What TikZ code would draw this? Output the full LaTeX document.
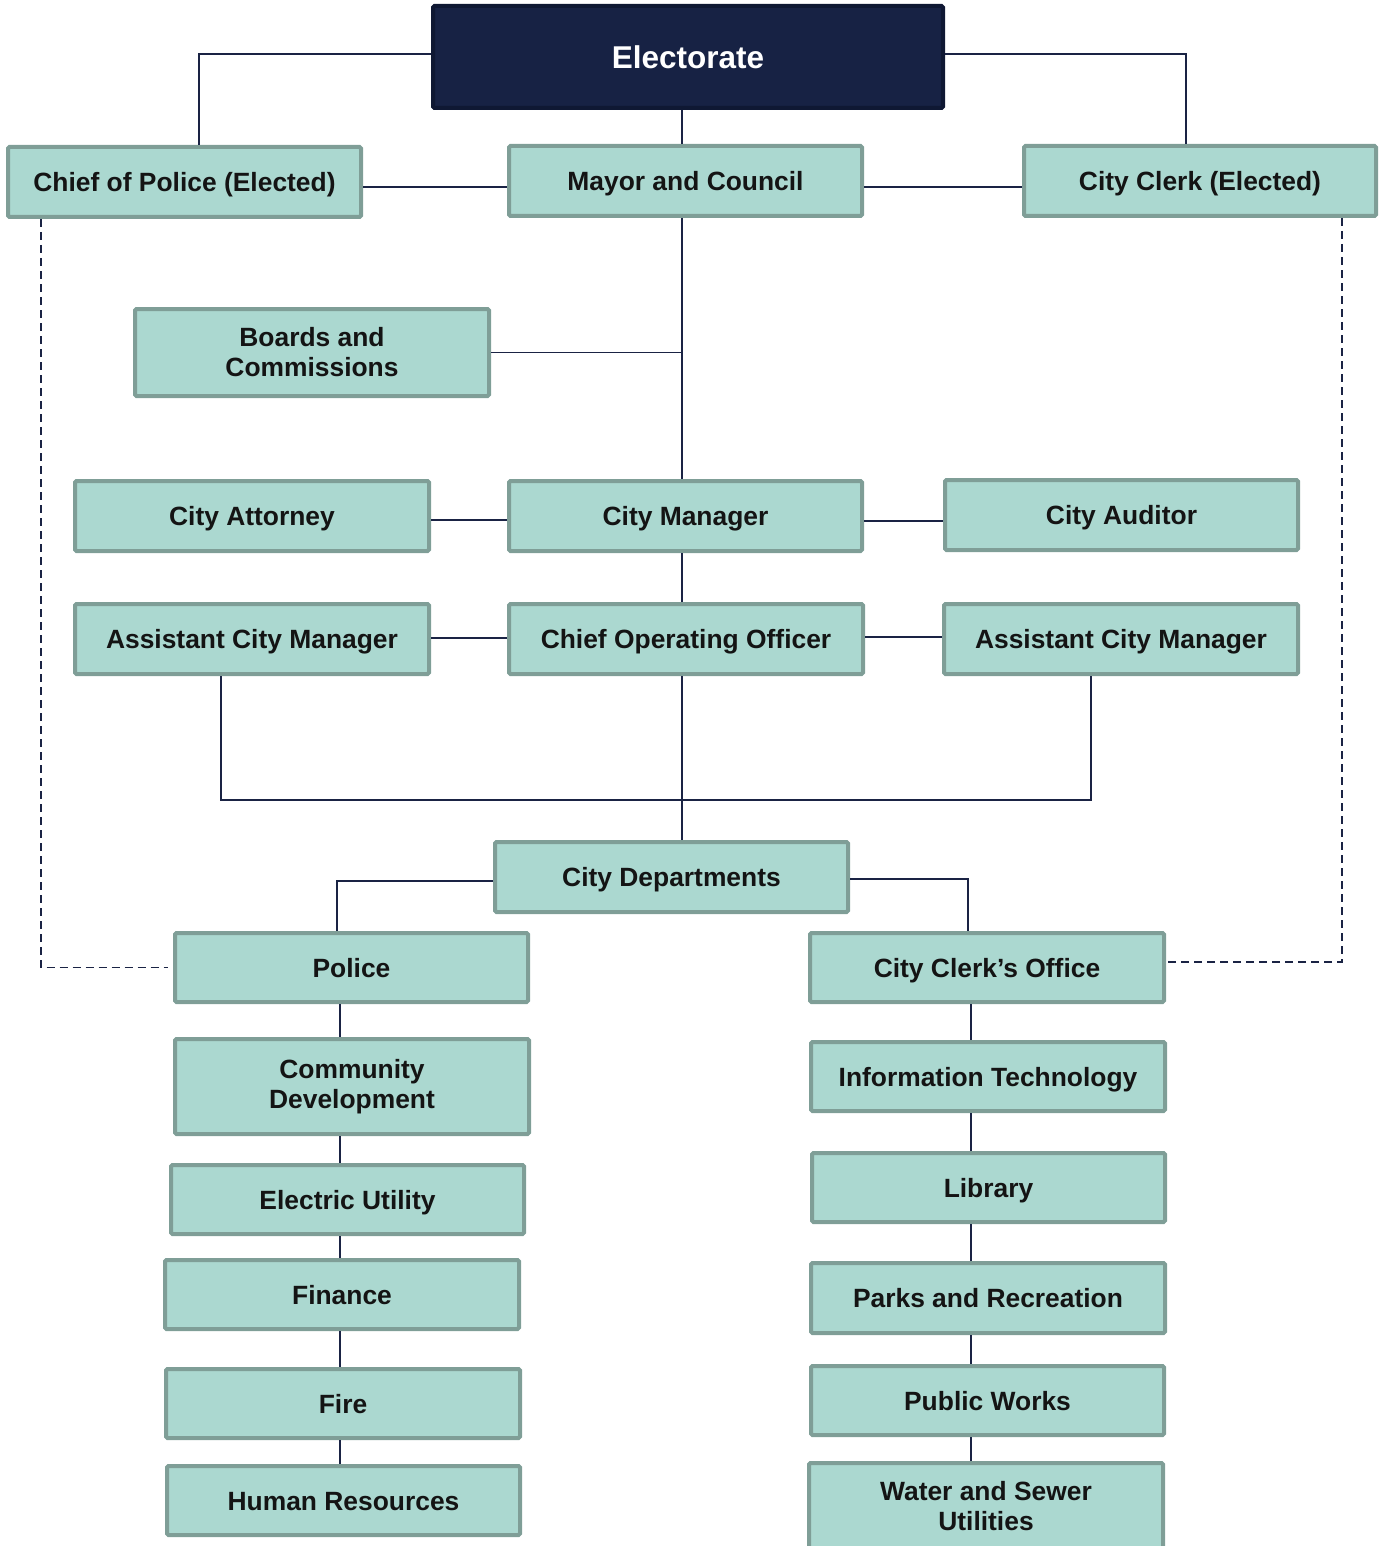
\documentclass[tikz,border=0pt]{standalone}
\usepackage{fontspec}
\setmainfont{Liberation Sans}
\usetikzlibrary{calc}
\definecolor{boxfill}{HTML}{ABD8D0}
\definecolor{boxline}{HTML}{7F9E97}
\definecolor{navy}{HTML}{172244}
\definecolor{navyline}{HTML}{0F1833}
\definecolor{conn}{HTML}{1A2344}
\tikzset{
  basebox/.style={draw=boxline, fill=boxfill, line width=4pt, rounded corners=1.5pt,
    align=center, inner sep=0pt, text=black!92,
    font=\fontsize{26.4}{30}\selectfont\bfseries},
  orgbox/.style={basebox, text height=19pt, text depth=0pt},
  twoline/.style={basebox},
  topbox/.style={draw=navyline, fill=navy, line width=4pt, rounded corners=1.5pt,
    align=center, inner sep=0pt, text=white, text height=22.7pt, text depth=0pt,
    font=\fontsize{31.5}{34}\selectfont\bfseries},
  link/.style={draw=conn, line width=1.8pt},
  dlink/.style={draw=conn, line width=1.8pt, dash pattern=on 8pt off 5pt},
}
\newcommand{\bx}[7][orgbox]{\node[#1, minimum width=#5pt-4pt, minimum height=#6pt-4pt] (#2) at (#3,#4) {#7};}
\begin{document}
\begin{tikzpicture}[x=1pt,y=-1pt]
\useasboundingbox (0,0) rectangle (1380,1546);
% boxes
\bx[topbox]{E}{688}{57}{514}{106}{Electorate}
\bx{Chief}{184.5}{182}{357}{74}{Chief of Police (Elected)}
\bx{Mayor}{685.5}{181}{357}{74}{Mayor and Council}
\bx{Clerk}{1200}{181}{356}{74}{City Clerk (Elected)}
\bx[twoline]{Boards}{312}{352.5}{358}{91}{Boards and\\Commissions}
\bx{Atty}{252}{516}{358}{74}{City Attorney}
\bx{CM}{685.5}{516}{357}{74}{City Manager}
\bx{Aud}{1121.5}{515}{357}{74}{City Auditor}
\bx{ACML}{252}{639}{358}{74}{Assistant City Manager}
\bx{COO}{686}{639}{358}{74}{Chief Operating Officer}
\bx{ACMR}{1121}{639}{358}{74}{Assistant City Manager}
\bx{Depts}{671.5}{877}{357}{74}{City Departments}
\bx{Police}{351.5}{967.5}{357}{73}{Police}
\bx[twoline]{Comm}{352}{1086.5}{358}{99}{Community\\Development}
\bx{Elec}{347.5}{1199.5}{357}{73}{Electric Utility}
\bx{Fin}{342}{1294.5}{358}{73}{Finance}
\bx{Fire}{343}{1403.5}{358}{73}{Fire}
\bx{HR}{343.5}{1500.5}{357}{73}{Human Resources}
\bx{CCO}{987}{967.5}{358}{73}{City Clerk’s Office}
\bx{IT}{988}{1076.5}{358}{73}{Information Technology}
\bx{Lib}{988.5}{1187.5}{357}{73}{Library}
\bx{Parks}{988}{1298}{358}{74}{Parks and Recreation}
\bx{PW}{987.5}{1400.5}{357}{73}{Public Works}
\bx[twoline]{Water}{986}{1506}{358}{90}{Water and Sewer\\Utilities}
% helper coordinates
\coordinate (spine) at (682,0);
\coordinate (bus) at (682,800);
\coordinate (Lx) at (340,0);
\coordinate (Rx) at (971,0);
% top connectors
\draw[link] ([yshift=3pt]E.west) -| ([xshift=14.5pt]Chief.north);
\draw[link] ([yshift=3pt]E.east) -| ([xshift=-14pt]Clerk.north);
\draw[link] (E.south -| spine) -- (Mayor.north -| spine);
\draw[link] ([yshift=-5pt]Chief.east) -- ([yshift=-5pt]Chief.east -| Mayor.west);
\draw[link] ([yshift=-6pt]Mayor.east) -- ([yshift=-6pt]Mayor.east -| Clerk.west);
\draw[link] (Mayor.south -| spine) -- (CM.north -| spine);
\draw[link] (Boards.east) -- (Boards.east -| spine);
\draw[link] ([yshift=-4pt]Atty.east) -- ([yshift=-4pt]Atty.east -| CM.west);
\draw[link] ([yshift=-5pt]CM.east) -- ([yshift=-5pt]CM.east -| Aud.west);
\draw[link] (CM.south -| spine) -- (COO.north -| spine);
\draw[link] ([yshift=1pt]ACML.east) -- ([yshift=1pt]ACML.east -| COO.west);
\draw[link] ([yshift=2pt]COO.east) -- ([yshift=2pt]COO.east -| ACMR.west);
\draw[link] (COO.south -| spine) -- (Depts.north -| spine);
\draw[link] ([xshift=-31pt]ACML.south) |- (bus) -| ([xshift=-30pt]ACMR.south);
\draw[link] ([yshift=-4pt]Depts.west) -| ([xshift=-3pt]Police.north -| Lx);
\draw[link] ([yshift=-2pt]Depts.east) -| ([xshift=-3pt]CCO.north -| Rx);
% left chain
\draw[link] (Police.south -| Lx) -- (Comm.north -| Lx);
\draw[link] (Comm.south -| Lx) -- (Elec.north -| Lx);
\draw[link] (Elec.south -| Lx) -- (Fin.north -| Lx);
\draw[link] (Fin.south -| Lx) -- (Fire.north -| Lx);
\draw[link] (Fire.south -| Lx) -- (HR.north -| Lx);
% right chain
\draw[link] (CCO.south -| Rx) -- (IT.north -| Rx);
\draw[link] (IT.south -| Rx) -- (Lib.north -| Rx);
\draw[link] (Lib.south -| Rx) -- (Parks.north -| Rx);
\draw[link] (Parks.south -| Rx) -- (PW.north -| Rx);
\draw[link] (PW.south -| Rx) -- (Water.north -| Rx);
% dashed reporting lines
\draw[dlink] ([xshift=-143.5pt]Chief.south) |- ([xshift=-5pt]Police.west);
\draw[dlink] ([xshift=142pt]Clerk.south) |- ([yshift=5.5pt]CCO.east);
\end{tikzpicture}
\end{document}
